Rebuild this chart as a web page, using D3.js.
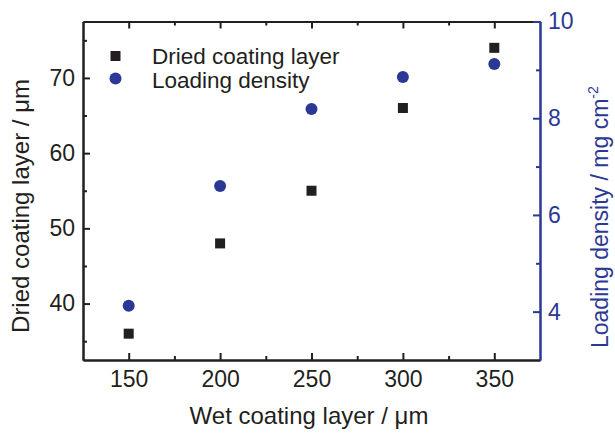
<!DOCTYPE html>
<html lang="en">
<head>
    <meta charset="UTF-8">
    <title>Coating layer</title>
    <style>
        html, body {
            margin: 0;
            padding: 0;
            background: #fff;
        }
        svg text {
            font-family: "Liberation Sans", Arial, sans-serif;
        }
    </style>
</head>
<body>
<svg id="chart" width="615" height="433"></svg>
<script src="https://cdnjs.cloudflare.com/ajax/libs/d3/7.8.5/d3.min.js"></script>
<script>
    "use strict"

    // data
    const wetLayer = [150, 200, 250, 300, 350];
    const driedLayer = [36, 48, 55, 66, 74];
    const loadingDensity = [4.12, 6.6, 8.19, 8.85, 9.12];

    const xTicks = [150, 200, 250, 300, 350];
    const xMinor = [175, 225, 275, 325];
    const leftTicks = [40, 50, 60, 70];
    const leftMinor = [35, 45, 55, 65, 75];
    const rightTicks = [4, 6, 8, 10];
    const rightMinor = [5, 7, 9];

    const legendLabels = ["Dried coating layer", "Loading density"];

    const black = "#231f20";
    const blue = "#2b3896";

    const plotL = 83, plotR = 540, plotT = 21.5, plotB = 360;

    const svg = d3.select("#chart");

    const x = d3.scaleLinear().domain([125, 375]).range([plotL, plotR]);
    const yL = d3.scaleLinear().domain([32.5, 77.5]).range([plotB, plotT]);
    const yR = d3.scaleLinear().domain([3, 10]).range([plotB, plotT]);

    function styleAxis(g, color) {
        g.select(".domain").attr("stroke", color).attr("stroke-width", 2);
        g.selectAll(".tick line").attr("stroke", color).attr("stroke-width", 2);
        g.selectAll(".tick text")
            .attr("fill", color)
            .attr("font-size", "23px")
            .attr("font-family", "Liberation Sans, Arial, sans-serif");
    }

    /* bottom axis */
    svg.append("g")
        .attr("transform", `translate(0,${plotB})`)
        .call(d3.axisBottom(x).tickValues(xMinor).tickSizeInner(-4).tickSizeOuter(0).tickFormat(""))
        .call(g => styleAxis(g, black));
    svg.append("g")
        .attr("transform", `translate(0,${plotB})`)
        .call(d3.axisBottom(x).tickValues(xTicks).tickSizeInner(-7).tickSizeOuter(0).tickPadding(27))
        .call(g => styleAxis(g, black))
        .call(g => g.selectAll(".tick text").attr("dy", 0));

    /* top axis, no labels */
    svg.append("g")
        .attr("transform", `translate(0,${plotT})`)
        .call(d3.axisTop(x).tickValues(xMinor).tickSizeInner(-4).tickSizeOuter(0).tickFormat(""))
        .call(g => styleAxis(g, black));
    svg.append("g")
        .attr("transform", `translate(0,${plotT})`)
        .call(d3.axisTop(x).tickValues(xTicks).tickSizeInner(-7).tickSizeOuter(0).tickFormat(""))
        .call(g => styleAxis(g, black));

    /* left axis */
    svg.append("g")
        .attr("transform", `translate(${plotL},0)`)
        .call(d3.axisLeft(yL).tickValues(leftMinor).tickSizeInner(-4).tickSizeOuter(0).tickFormat(""))
        .call(g => styleAxis(g, black));
    svg.append("g")
        .attr("transform", `translate(${plotL},0)`)
        .call(d3.axisLeft(yL).tickValues(leftTicks).tickSizeInner(-7).tickSizeOuter(0).tickPadding(8))
        .call(g => styleAxis(g, black));

    /* right axis (blue) */
    svg.append("g")
        .attr("transform", `translate(${plotR},0)`)
        .call(d3.axisRight(yR).tickValues(rightMinor).tickSizeInner(-4).tickSizeOuter(0).tickFormat(""))
        .call(g => styleAxis(g, blue));
    svg.append("g")
        .attr("transform", `translate(${plotR},0)`)
        .call(d3.axisRight(yR).tickValues(rightTicks).tickSizeInner(-7).tickSizeOuter(0)
            .tickPadding(8).tickFormat(d3.format("d")))
        .call(g => styleAxis(g, blue));

    /* data */
    const pts = wetLayer.map((w, i) => ({w, d: driedLayer[i], l: loadingDensity[i]}));
    const sq = 10;

    svg.append("g").selectAll("rect")
        .data(pts)
        .enter()
        .append("rect")
        .attr("x", p => x(p.w) - sq / 2)
        .attr("y", p => yL(p.d) - sq / 2)
        .attr("width", sq)
        .attr("height", sq)
        .attr("fill", black);

    svg.append("g").selectAll("circle")
        .data(pts)
        .enter()
        .append("circle")
        .attr("cx", p => x(p.w))
        .attr("cy", p => yR(p.l))
        .attr("r", 6)
        .attr("fill", blue);

    /* legend */
    const lg = svg.append("g");
    lg.append("rect")
        .attr("x", 115.5 - sq / 2).attr("y", 56 - sq / 2)
        .attr("width", sq).attr("height", sq)
        .attr("fill", black);
    lg.append("circle")
        .attr("cx", 115.5).attr("cy", 78.5).attr("r", 6)
        .attr("fill", blue);
    lg.selectAll("text")
        .data(legendLabels)
        .enter()
        .append("text")
        .attr("x", 152)
        .attr("y", (d, i) => 64 + i * 23.5)
        .attr("font-size", "22.5px")
        .attr("fill", black)
        .text(d => d);

    /* axis titles */
    svg.append("text")
        .attr("x", 309)
        .attr("y", 424)
        .attr("text-anchor", "middle")
        .attr("font-size", "24px")
        .attr("fill", black)
        .text("Wet coating layer / μm");

    svg.append("text")
        .attr("transform", "translate(29,206) rotate(-90)")
        .attr("text-anchor", "middle")
        .attr("font-size", "24px")
        .attr("fill", black)
        .text("Dried coating layer / μm");

    const rt = svg.append("text")
        .attr("transform", "translate(608,348) rotate(-90)")
        .attr("text-anchor", "start")
        .attr("font-size", "23px")
        .attr("fill", blue);
    rt.append("tspan").text("Loading density / mg cm");
    rt.append("tspan").attr("dy", -10).attr("font-size", "14px").text("-2");
</script>
</body>
</html>
